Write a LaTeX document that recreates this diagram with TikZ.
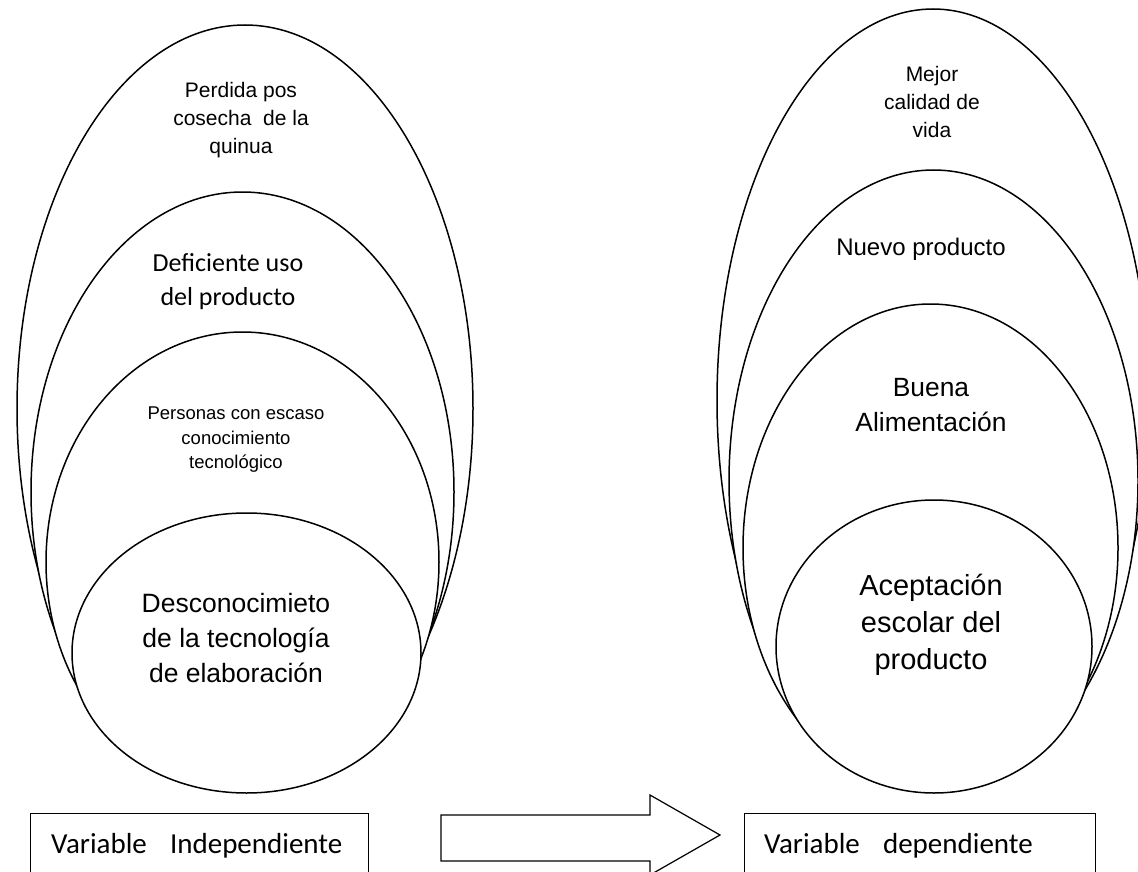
\documentclass[tikz,border=0pt]{standalone}
\usepackage{fontspec}
\setmainfont{Liberation Sans}
\newfontfamily\calibri{Carlito}
\usetikzlibrary{shapes.geometric}

\begin{document}
\begin{tikzpicture}[x=1pt, y=-1pt,
            ring/.style={ellipse, draw, fill=white, line width=1.5pt, inner sep=0pt},
            ringtext/.style={align=center, inner sep=0pt},
            varbox/.style={rectangle, draw, line width=1.2pt, inner sep=0pt, anchor=north west},
            vartext/.style={font=\calibri\fontsize{29}{34}\selectfont, inner sep=0pt, anchor=base west}
            ]
            \useasboundingbox (0,0) rectangle (1138,872);

            % left: causes
            \node[ring, minimum width=456pt, minimum height=767pt] (perdida) at (245,408.5) {};
            \node[ring, minimum width=423pt, minimum height=600pt] (deficiente) at (242.5,492) {};
            \node[ring, minimum width=393pt, minimum height=460pt] (personas) at (242.5,562) {};
            \node[ring, minimum width=349pt, minimum height=280pt] (descon) at (246.5,653) {};

            \node[ringtext, font=\fontsize{21}{28}\selectfont] (perdidatxt) at (241,120) {Perdida pos\\cosecha\ \ de la\\quinua};
            \node[ringtext, font=\calibri\fontsize{26}{34}\selectfont] (deficientetxt) at (228,282) {Deficiente uso\\del producto};
            \node[ringtext, font=\fontsize{18.5}{24.5}\selectfont] (personastxt) at (236,440) {Personas con escaso\\conocimiento\\tecnológico};
            \node[ringtext, font=\fontsize{26.5}{35}\selectfont] (descontxt) at (236,638) {Desconocimieto\\de la tecnología\\de elaboración};

            % right: effects
            \node[ring, minimum width=432pt, minimum height=783pt] (mejor) at (933,400.5) {};
            \node[ring, minimum width=409pt, minimum height=622pt] (nuevo) at (933.5,481) {};
            \node[ring, minimum width=375pt, minimum height=488pt] (buena) at (930.5,548) {};
            \node[ring, minimum width=316pt, minimum height=293pt] (acepta) at (934,646.5) {};

            \node[ringtext, font=\fontsize{21}{28}\selectfont] (mejortxt) at (932,102) {Mejor\\calidad de\\vida};
            \node[ringtext, font=\fontsize{24}{30}\selectfont] (nuevotxt) at (921,249) {Nuevo producto};
            \node[ringtext, font=\fontsize{26.4}{35}\selectfont] (buenatxt) at (931,405) {Buena\\Alimentación};
            \node[ringtext, font=\fontsize{29}{37}\selectfont] (aceptatxt) at (931,625) {Aceptación\\escolar del\\producto};

            % variables
            \node[varbox, minimum width=338pt, minimum height=80pt] (indep) at (30,813) {};
            \node[vartext] (indeptxt) at (51,853) {Variable\hspace{0.8em}Independiente};
            \node[varbox, minimum width=351pt, minimum height=80pt] (dep) at (744,813) {};
            \node[vartext] (deptxt) at (764,853) {Variable\hspace{0.8em}dependiente};

            \draw[line width=1.2pt, line join=miter] (441,815) -- (650,815) -- (650,795) -- (720,835)
                -- (650,875) -- (650,861) -- (441,861) -- cycle;
            \end{tikzpicture}
\end{document}
